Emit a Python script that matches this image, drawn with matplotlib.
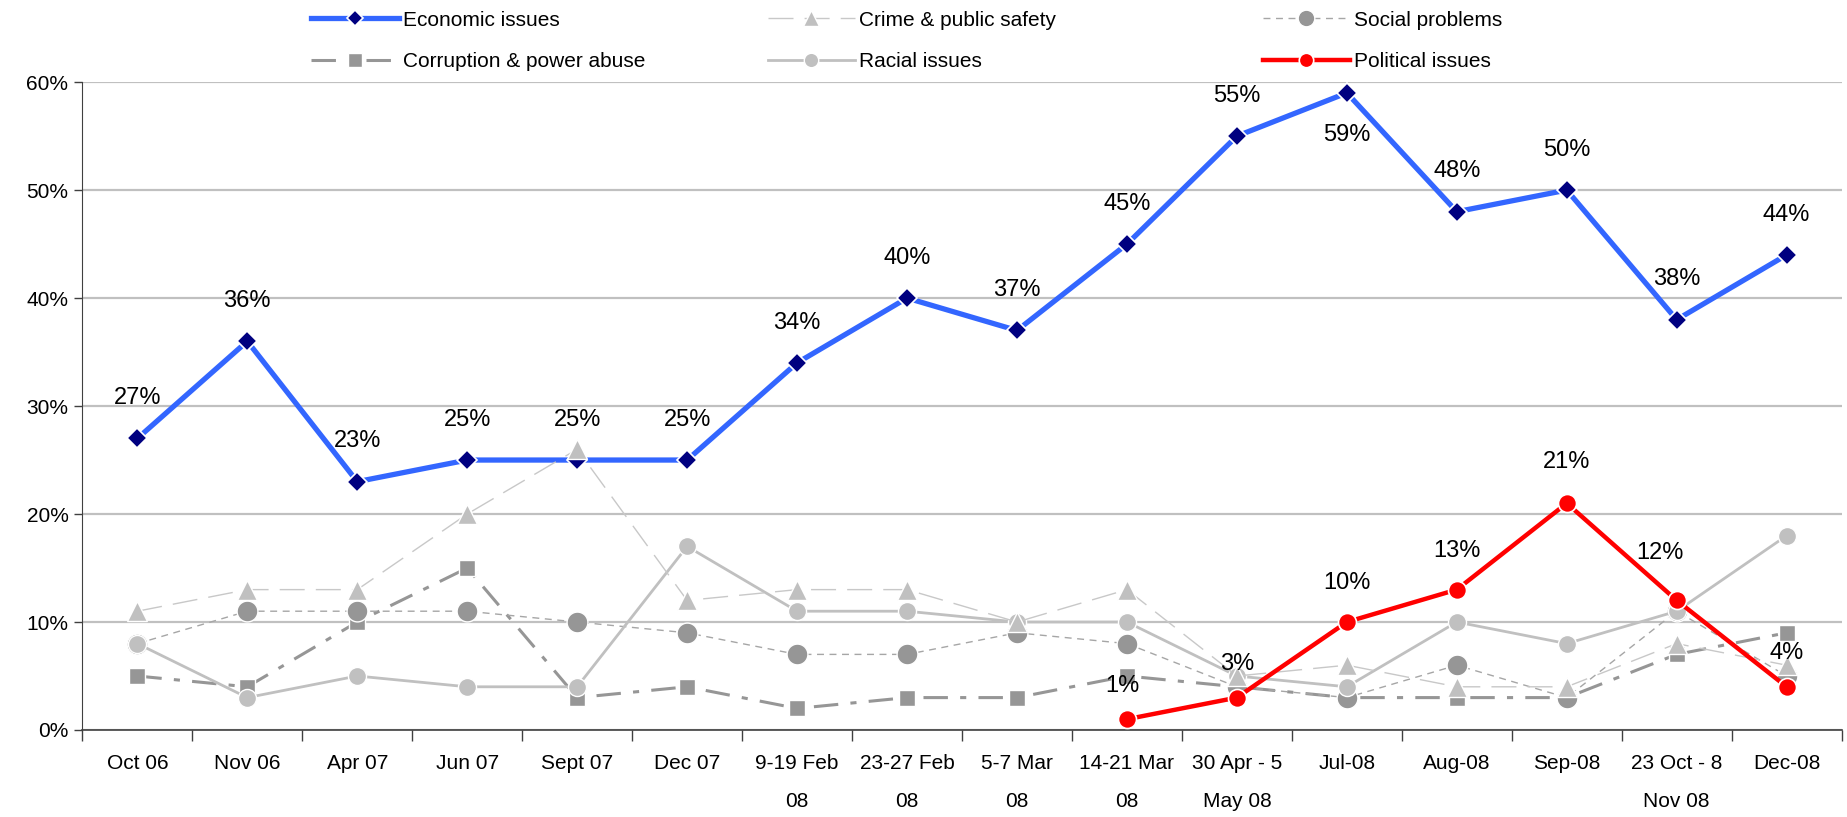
import matplotlib
matplotlib.use("Agg")
import matplotlib.pyplot as plt
from matplotlib.ticker import FixedLocator, PercentFormatter

plt.rcParams['font.family'] = ['Liberation Sans Narrow', 'Liberation Sans', 'DejaVu Sans']

categories = ["Oct 06", "Nov 06", "Apr 07", "Jun 07", "Sept 07", "Dec 07",
              "9-19 Feb\n08", "23-27 Feb\n08", "5-7 Mar\n08", "14-21 Mar\n08",
              "30 Apr - 5\nMay 08", "Jul-08", "Aug-08", "Sep-08", "23 Oct - 8\nNov 08", "Dec-08"]

economic = [27, 36, 23, 25, 25, 25, 34, 40, 37, 45, 55, 59, 48, 50, 38, 44]
crime = [11, 13, 13, 20, 26, 12, 13, 13, 10, 13, 5, 6, 4, 4, 8, 6]
social = [8, 11, 11, 11, 10, 9, 7, 7, 9, 8, 4, 3, 6, 3, 11, 5]
corruption = [5, 4, 10, 15, 3, 4, 2, 3, 3, 5, 4, 3, 3, 3, 7, 9]
racial = [8, 3, 5, 4, 4, 17, 11, 11, 10, 10, 5, 4, 10, 8, 11, 18]
political_idx = [9, 10, 11, 12, 13, 14, 15]
political = [1, 3, 10, 13, 21, 12, 4]

yticks = [0, 10, 20, 30, 40, 50, 60]

fig = plt.figure(figsize=(18.47, 8.17), dpi=100)
ax = fig.add_axes([0.0446, 0.1065, 0.9525, 0.793])

x = list(range(len(categories)))

h_econ, = ax.plot(x, economic, color='#3366FF', lw=3.8, marker='D', ms=10,
                  mfc='#000080', mec='white', mew=1.2, zorder=5, label='Economic issues')
h_corr, = ax.plot(x, corruption, color='#969696', lw=2.2, ls=(0, (8, 4, 2, 4)), marker='s', ms=12,
                  mfc='#969696', mec='white', mew=1, zorder=3, label='Corruption & power abuse')
h_soc, = ax.plot(x, social, color='#A6A6A6', lw=1.0, ls=(0, (5, 4)), marker='o', ms=15,
                 mfc='#969696', mec='white', mew=1, zorder=3, label='Social problems')
h_rac, = ax.plot(x, racial, color='#C0C0C0', lw=2.0, ls='-', marker='o', ms=13,
                 mfc='#C0C0C0', mec='white', mew=1, zorder=4, label='Racial issues')
h_crime, = ax.plot(x, crime, color='#C8C8C8', lw=1.0, ls=(0, (18, 8)), marker='^', ms=14,
                   mfc='#C0C0C0', mec='white', mew=1, zorder=6, label='Crime & public safety')
h_pol, = ax.plot(political_idx, political, color='#FF0000', lw=3.2, marker='o', ms=13,
                 mfc='#FF0000', mec='white', mew=1.2, zorder=7, label='Political issues')

# data labels
for i, v in enumerate(economic):
    dy = -30 if i == 11 else 29
    ax.annotate(f"{v}%", (i, v), xytext=(0, dy), textcoords='offset points',
                ha='center', va='center', fontsize=17, zorder=10)
pol_off = {9: (-3, 24), 10: (0, 24), 11: (0, 28), 12: (0, 28), 13: (0, 30), 14: (-12, 34), 15: (0, 24)}
for i, v in zip(political_idx, political):
    dx, dy = pol_off[i]
    ax.annotate(f"{v}%", (i, v), xytext=(dx, dy), textcoords='offset points',
                ha='center', va='center', fontsize=17, zorder=10)

ax.set_xlim(-0.5, len(categories) - 0.5)
ax.set_ylim(0, 60)
ax.yaxis.set_major_locator(FixedLocator(yticks))
ax.yaxis.set_major_formatter(PercentFormatter(decimals=0))
ax.set_xticks(x)
ax.set_xticklabels(categories, fontsize=15, linespacing=2.3)
ax.set_xticks([i - 0.5 for i in range(len(categories) + 1)], minor=True)
ax.tick_params(axis='x', which='major', length=0, pad=17)
ax.tick_params(axis='x', which='minor', length=8, width=1, color='#404040', direction='out')
ax.tick_params(axis='y', labelsize=15, length=6, width=1, color='#404040', direction='out', pad=4)
for lab in ax.get_xticklabels():
    lab.set_verticalalignment('top')

ax.grid(axis='y', color='#C0C0C0', lw=1.6, zorder=0)
ax.set_axisbelow(True)
for s in ['top', 'right']:
    ax.spines[s].set_visible(False)
ax.spines['left'].set_color('#404040')
ax.spines['bottom'].set_color('#404040')
ax.spines['bottom'].set_linewidth(1.2)

# legends (three columns)
cols = [([h_econ, h_corr], 0.1585), ([h_crime, h_rac], 0.4055), ([h_soc, h_pol], 0.6735)]
for handles, xpos in cols:
    fig.legend(handles=handles, loc='upper left', bbox_to_anchor=(xpos, 1.010),
               frameon=False, fontsize=15, handlelength=4.2, handletextpad=0.2,
               labelspacing=1.1, markerscale=0.8)

fig.savefig('out.png', dpi=100)
